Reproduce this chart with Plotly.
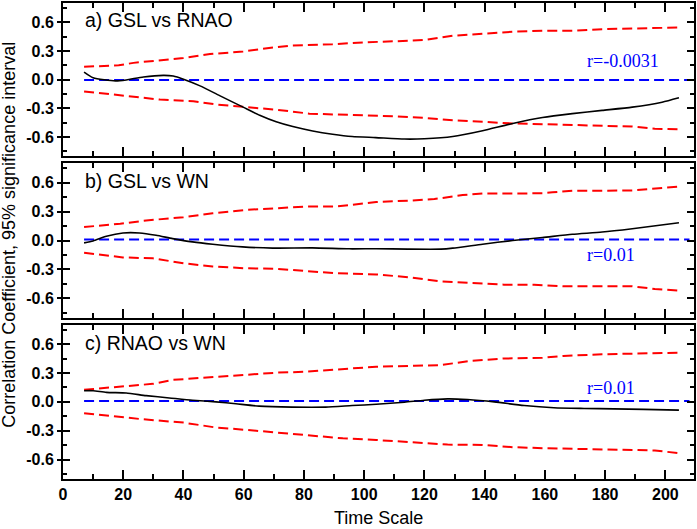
import plotly.graph_objects as go

# ---------------- data ----------------
# Panel a) GSL vs RNAO
a_black_x = [7, 10, 17.4, 21, 26.7, 33.3, 36.6, 40, 45.5, 52, 59.8, 65.3, 70.8, 76.3, 82.9, 89.5, 96, 103.8, 113.4, 120, 129.4, 139.3, 149.3, 159.2, 169.1, 179, 189, 198.9, 204.5]
a_black_y = [0.079, 0.02, -0.013, -0.003, 0.028, 0.045, 0.038, 0.005, -0.065, -0.167, -0.287, -0.372, -0.44, -0.49, -0.536, -0.57, -0.594, -0.605, -0.62, -0.617, -0.594, -0.533, -0.458, -0.396, -0.355, -0.321, -0.287, -0.236, -0.19]
a_up_x = [7, 18.5, 23.4, 32.2, 40, 48.8, 59.8, 69.7, 76.3, 89.5, 100.5, 110, 120, 129.4, 139.3, 149.3, 159.2, 169.1, 179, 189, 204.5]
a_up_y = [0.134, 0.15, 0.175, 0.2, 0.226, 0.267, 0.294, 0.335, 0.356, 0.369, 0.39, 0.4, 0.414, 0.458, 0.482, 0.5, 0.51, 0.51, 0.527, 0.535, 0.544]
a_lo_x = [7, 15.7, 24.5, 32.2, 43.3, 51, 60.9, 70.8, 81.8, 92.9, 104.9, 110, 120, 129.4, 139.3, 149.3, 159.2, 169.1, 179, 189, 196.5, 204.5]
a_lo_y = [-0.123, -0.15, -0.184, -0.208, -0.225, -0.26, -0.287, -0.314, -0.355, -0.365, -0.372, -0.383, -0.4, -0.424, -0.44, -0.458, -0.465, -0.475, -0.482, -0.49, -0.513, -0.519]
r_a = -0.0031

# Panel b) GSL vs WN
b_black_x = [7, 10, 14.4, 19.9, 25.4, 30.9, 36.4, 43, 49.7, 59.6, 69.6, 82.8, 95, 104, 114.5, 125.5, 129.4, 139.3, 149.3, 159.2, 169.1, 179, 189, 204.5]
b_black_y = [-0.024, -0.004, 0.044, 0.078, 0.078, 0.054, 0.02, -0.014, -0.038, -0.066, -0.079, -0.076, -0.086, -0.085, -0.089, -0.089, -0.079, -0.038, 0.0, 0.031, 0.065, 0.088, 0.123, 0.185]
b_up_x = [7, 19, 27.6, 40, 49.7, 60.7, 70.8, 80.7, 90.6, 104, 114.5, 123.3, 132.7, 139.3, 149.3, 159.2, 162.5, 169.1, 179, 189, 204.5]
b_up_y = [0.14, 0.174, 0.208, 0.242, 0.283, 0.318, 0.335, 0.352, 0.352, 0.40, 0.413, 0.43, 0.472, 0.488, 0.488, 0.49, 0.5, 0.516, 0.516, 0.52, 0.56]
b_lo_x = [7, 19.9, 29.8, 40, 49.7, 60.7, 70.8, 80.7, 90.6, 104, 114.5, 125.5, 136.5, 146.4, 156.4, 166.1, 179, 189, 196.5, 204.5]
b_lo_y = [-0.127, -0.175, -0.185, -0.236, -0.27, -0.288, -0.294, -0.315, -0.339, -0.352, -0.38, -0.424, -0.441, -0.458, -0.458, -0.475, -0.475, -0.475, -0.503, -0.52]
r_b = 0.01

# Panel c) RNAO vs WN
c_black_x = [7, 10, 14.4, 21, 27.6, 35.3, 43, 50.8, 57.4, 65.1, 76.1, 87.2, 96, 104, 113.4, 120, 127.7, 134.3, 143.2, 153.1, 163, 173, 182.9, 192.8, 204.5]
c_black_y = [0.116, 0.116, 0.099, 0.092, 0.065, 0.041, 0.017, 0.0, -0.02, -0.044, -0.054, -0.054, -0.038, -0.025, -0.003, 0.017, 0.031, 0.024, 0.0, -0.038, -0.061, -0.068, -0.072, -0.078, -0.085]
c_up_x = [7, 21, 29.8, 36.4, 49.7, 60.7, 70.8, 80.7, 90.6, 104, 116.7, 125.5, 135.4, 146.4, 159.2, 166.1, 179, 189, 204.5]
c_up_y = [0.126, 0.16, 0.187, 0.228, 0.256, 0.279, 0.303, 0.313, 0.337, 0.365, 0.375, 0.382, 0.426, 0.45, 0.457, 0.477, 0.494, 0.5, 0.511]
c_lo_x = [7, 15.7, 26.7, 40, 50.8, 60.7, 70.8, 81.8, 92.9, 104, 116.7, 127.7, 139.3, 149.3, 159.2, 169.1, 179, 189, 196.5, 204.5]
c_lo_y = [-0.119, -0.147, -0.181, -0.215, -0.266, -0.29, -0.317, -0.344, -0.378, -0.395, -0.419, -0.443, -0.446, -0.47, -0.48, -0.487, -0.498, -0.504, -0.504, -0.532]
r_c = 0.01

r_line_x = [7, 208]
panel_titles = ["a) GSL vs RNAO", "b) GSL vs WN", "c) RNAO vs WN"]
r_labels = ["r=-0.0031", "r=0.01", "r=0.01"]
x_ticks = [0, 20, 40, 60, 80, 100, 120, 140, 160, 180, 200]
y_ticks = [-0.6, -0.3, 0.0, 0.3, 0.6]
y_ticktext = ["-0.6", "-0.3", "0.0", "0.3", "0.6"]
y_minor = [-0.75, -0.45, -0.15, 0.15, 0.45, 0.75]

# ---------------- figure ----------------
RED = "#FF0000"
BLUE = "#0000FF"
fig = go.Figure()

panels = [
    ("x3", "y3", (a_black_x, a_black_y), (a_up_x, a_up_y), (a_lo_x, a_lo_y), r_a, 0.62, 186, 0.19),
    ("x2", "y2", (b_black_x, b_black_y), (b_up_x, b_up_y), (b_lo_x, b_lo_y), r_b, 0.62, 182, -0.15),
    ("x", "y", (c_black_x, c_black_y), (c_up_x, c_up_y), (c_lo_x, c_lo_y), r_c, 0.61, 182, 0.143),
]

annotations = []
for i, (xr, yr, blk, up, lo, r, ly, rx, ry) in enumerate(panels):
    fig.add_trace(go.Scatter(x=up[0], y=up[1], mode="lines", xaxis=xr, yaxis=yr,
                             line=dict(color=RED, width=2, dash="10px,5px"), showlegend=False))
    fig.add_trace(go.Scatter(x=lo[0], y=lo[1], mode="lines", xaxis=xr, yaxis=yr,
                             line=dict(color=RED, width=2, dash="10px,5px"), showlegend=False))
    fig.add_trace(go.Scatter(x=r_line_x, y=[r, r], mode="lines", xaxis=xr, yaxis=yr,
                             line=dict(color=BLUE, width=2, dash="10px,5px"), showlegend=False))
    fig.add_trace(go.Scatter(x=blk[0], y=blk[1], mode="lines", xaxis=xr, yaxis=yr,
                             line=dict(color="black", width=1.6, shape="spline", smoothing=0.6),
                             showlegend=False))
    annotations.append(dict(text=panel_titles[i], x=6.8, y=ly, xref=xr, yref=yr,
                            xanchor="left", yanchor="middle", showarrow=False,
                            font=dict(family="Arial, Liberation Sans, sans-serif", size=19.5, color="black")))
    annotations.append(dict(text=r_labels[i], x=rx, y=ry, xref=xr, yref=yr,
                            xanchor="center", yanchor="middle", showarrow=False,
                            font=dict(family="Times New Roman, Liberation Serif, serif", size=18, color=BLUE)))

# empty traces so the overlay tick axes render
for yo, xr in (("y4", "x"), ("y5", "x2"), ("y6", "x3")):
    fig.add_trace(go.Scatter(x=[], y=[], xaxis=xr, yaxis=yo, showlegend=False, hoverinfo="skip"))

annotations.append(dict(text="Time Scale", x=0.5, y=-0.082, xref="paper", yref="paper",
                        xanchor="center", yanchor="middle", showarrow=False,
                        font=dict(family="Arial, Liberation Sans, sans-serif", size=18, color="black")))
annotations.append(dict(text="Correlation Coefficient, 95% significance interval",
                        x=-0.085, y=0.514, xref="paper", yref="paper", textangle=-90,
                        xanchor="center", yanchor="middle", showarrow=False,
                        font=dict(family="Arial, Liberation Sans, sans-serif", size=18, color="black")))

tickfont = dict(family="Arial, Liberation Sans, sans-serif", size=16, color="black", weight="bold")

def xax(anchor, labels):
    return dict(anchor=anchor, domain=[0, 1], range=[0, 209.5], tickmode="array", tickvals=x_ticks,
                ticks="inside", ticklen=9, tickwidth=1.5, tickcolor="black",
                minor=dict(dtick=10, tick0=0, ticks="inside", ticklen=5, tickwidth=1.5, tickcolor="black"),
                showline=True, linewidth=2, linecolor="black", mirror="ticks",
                showgrid=False, zeroline=False, showticklabels=labels, tickfont=tickfont)

def yax(domain, anchor):
    return dict(anchor=anchor, domain=domain, range=[-0.8, 0.8], tickmode="array",
                tickvals=y_ticks, ticktext=y_ticktext, ticks="outside", ticklen=4, tickwidth=1.5,
                tickcolor="black", showline=True, linewidth=2, linecolor="black", mirror=True,
                showgrid=False, zeroline=False, tickfont=tickfont)

def yover(over, anchor):
    return dict(overlaying=over, anchor=anchor, side="left", range=[-0.8, 0.8], tickmode="array",
                tickvals=y_ticks, ticks="inside", ticklen=7, tickwidth=1.5, tickcolor="black",
                minor=dict(tickmode="array", tickvals=y_minor, ticks="inside", ticklen=4,
                           tickwidth=1.5, tickcolor="black"),
                showline=False, mirror="ticks", showgrid=False, zeroline=False, showticklabels=False)

fig.update_layout(
    width=697, height=529,
    margin=dict(l=63, r=3, t=1, b=50),
    paper_bgcolor="white", plot_bgcolor="white",
    xaxis=xax("y", True),
    xaxis2=xax("y2", False),
    xaxis3=xax("y3", False),
    yaxis=yax([0, 0.324], "x"),
    yaxis2=yax([0.339, 0.663], "x2"),
    yaxis3=yax([0.678, 1.0], "x3"),
    yaxis4=yover("y", "x"),
    yaxis5=yover("y2", "x2"),
    yaxis6=yover("y3", "x3"),
    annotations=annotations,
    showlegend=False,
)

fig.write_html("out.html", config={"displayModeBar": False},
               post_script="document.body.style.margin='0';document.body.style.overflow='hidden';")
